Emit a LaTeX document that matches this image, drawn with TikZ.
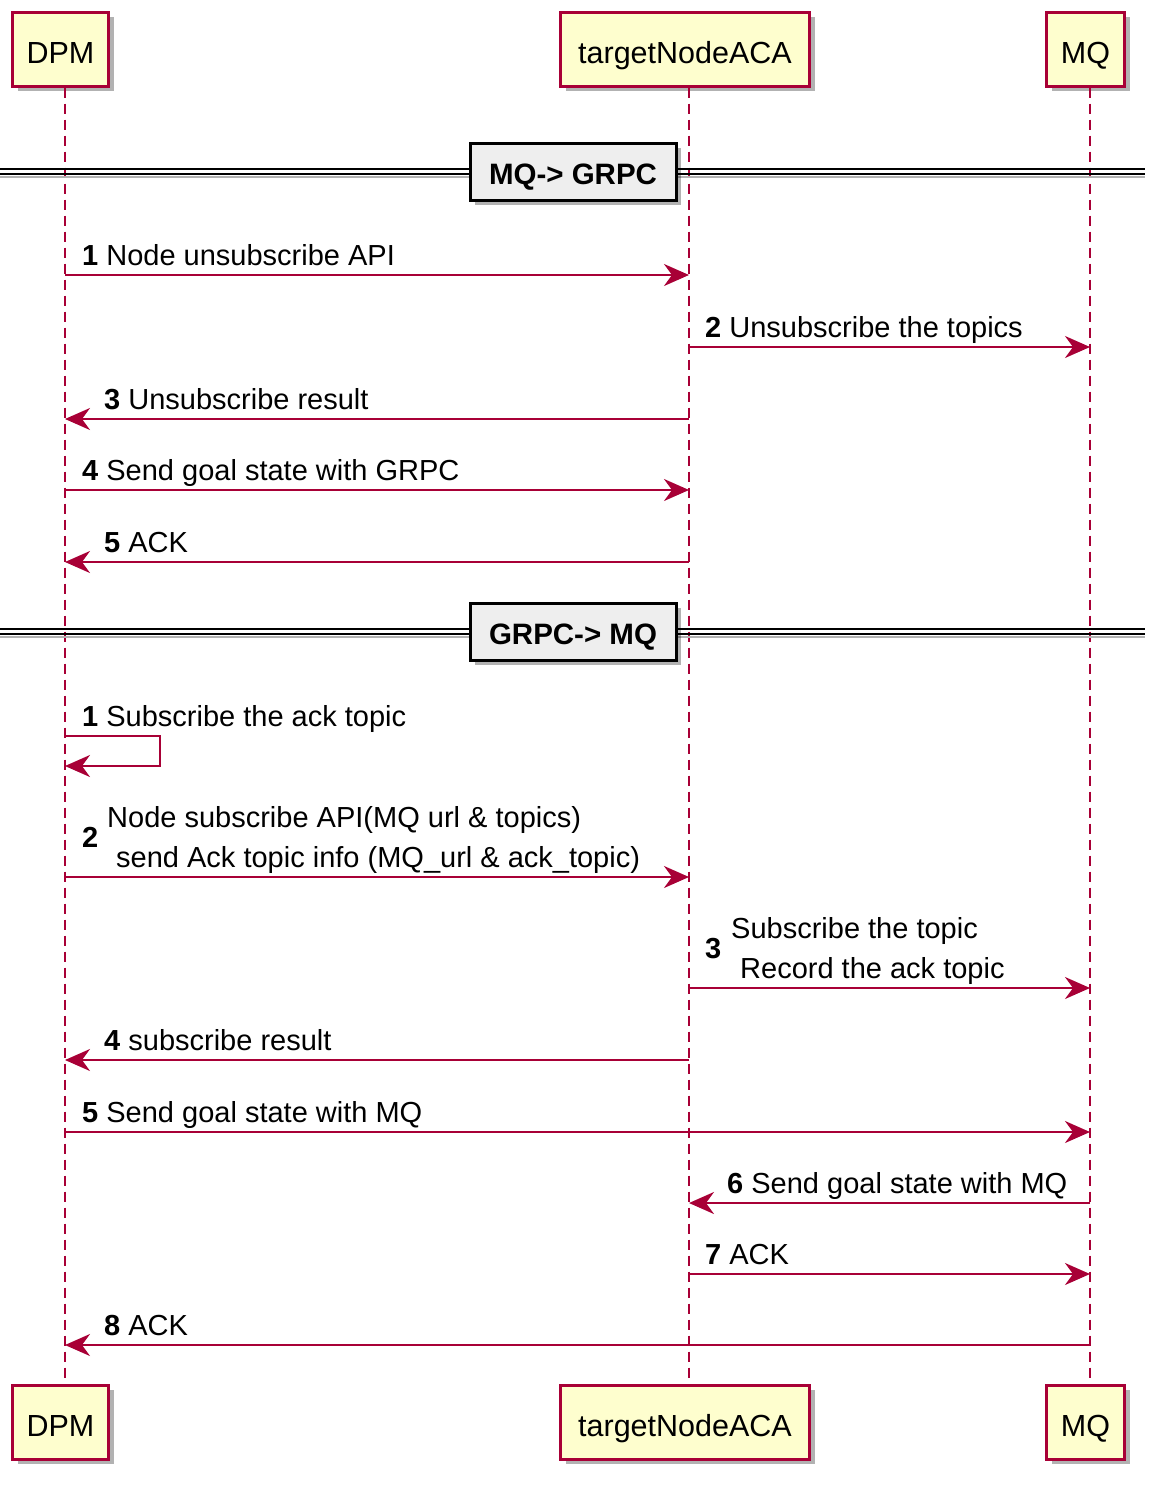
\documentclass[tikz,border=0pt]{standalone}
\usepackage{fontspec}
\setmainfont{Liberation Sans}
\usetikzlibrary{arrows.meta,shadows}
\definecolor{pumlred}{HTML}{A80036}
\definecolor{pumlyellow}{HTML}{FEFECE}
\definecolor{sepfill}{HTML}{EEEEEE}
\begin{document}
\begin{tikzpicture}[x=1pt,y=-1pt,
  every node/.style={font=\fontsize{29}{35}\selectfont, inner sep=0pt},
  partbox/.style={draw=pumlred, line width=3pt, fill=pumlyellow, minimum height=74pt,
    font=\fontsize{30.5}{36}\selectfont, text height=28pt, text depth=0pt,
    drop shadow={shadow xshift=5pt, shadow yshift=-5pt, opacity=0.3, fill=black}},
  lifeline/.style={draw=pumlred, line width=1.5pt, dash pattern=on 10pt off 6pt},
  msg/.style={draw=pumlred, line width=2pt, -{Stealth[length=25pt,width=22pt,inset=8pt]}},
  lbl/.style={anchor=base west},
  sepbox/.style={draw=black, line width=3pt, fill=sepfill, minimum width=206pt, minimum height=57pt,
    font=\fontsize{29.5}{35}\selectfont\bfseries, text height=25pt, text depth=0pt,
    drop shadow={shadow xshift=5pt, shadow yshift=-5pt, opacity=0.3, fill=black}},
  sepline/.style={draw=black, line width=2pt},
  sepshadow/.style={draw=black!30, line width=2pt},
]
\useasboundingbox (0,0) rectangle (1158,1486);
% lifeline x positions
\coordinate (xD) at (65,0);
\coordinate (xA) at (689,0);
\coordinate (xM) at (1090,0);
% participants
\node[partbox, minimum width=96pt] (dpmT) at (60.5,49) {DPM};
\node[partbox, minimum width=249pt] (acaT) at (685,49) {targetNodeACA};
\node[partbox, minimum width=78pt] (mqT) at (1085.5,49) {MQ};
\node[partbox, minimum width=96pt] (dpmB) at (60.5,1422) {DPM};
\node[partbox, minimum width=249pt] (acaB) at (685,1422) {targetNodeACA};
\node[partbox, minimum width=78pt] (mqB) at (1085.5,1422) {MQ};
% lifelines
\draw[lifeline] (dpmT.south -| xD) -- (dpmB.north -| xD);
\draw[lifeline] (acaT.south -| xA) -- (acaB.north -| xA);
\draw[lifeline] (mqT.south -| xM) -- (mqB.north -| xM);
% separator 1
\coordinate (s1L) at (0,169);
\coordinate (s1R) at (1145,169);
\draw[sepshadow] ([yshift=-8pt]s1L) -- ([yshift=-8pt]s1R);
\draw[sepline] (s1L) -- (s1R);
\draw[sepline] ([yshift=-5pt]s1L) -- ([yshift=-5pt]s1R);
\node[sepbox] (sep1) at (573,171.5) {MQ-> GRPC\hspace{10pt}};
% separator 2
\coordinate (s2L) at (0,629);
\coordinate (s2R) at (1145,629);
\draw[sepshadow] ([yshift=-8pt]s2L) -- ([yshift=-8pt]s2R);
\draw[sepline] (s2L) -- (s2R);
\draw[sepline] ([yshift=-5pt]s2L) -- ([yshift=-5pt]s2R);
\node[sepbox] (sep2) at (573,631.5) {GRPC-> MQ\hspace{10pt}};
% section 1 messages
\draw[msg] (xD |- 0,275) -- (xA |- 0,275);
\node[lbl] (l1) at (82,265) {\textbf{1} Node unsubscribe API};
\draw[msg] (xA |- 0,347) -- (xM |- 0,347);
\node[lbl] (l2) at (705,337) {\textbf{2} Unsubscribe the topics};
\draw[msg] (xA |- 0,419) -- (xD |- 0,419);
\node[lbl] (l3) at (104,409) {\textbf{3} Unsubscribe result};
\draw[msg] (xD |- 0,490) -- (xA |- 0,490);
\node[lbl] (l4) at (82,480) {\textbf{4} Send goal state with GRPC};
\draw[msg] (xA |- 0,562) -- (xD |- 0,562);
\node[lbl] (l5) at (104,552) {\textbf{5} ACK};
% section 2 messages
\coordinate (selfA) at (160,736);
\coordinate (selfB) at (160,766);
\draw[msg] (xD |- selfA) -- (selfA) -- (selfB) -- (xD |- selfB);
\node[lbl] (k1) at (82,726) {\textbf{1} Subscribe the ack topic};
\draw[msg] (xD |- 0,877) -- (xA |- 0,877);
\node[lbl] (k2n) at (82,847) {\textbf{2}};
\node[lbl] (k2a) at (107,827) {Node subscribe API(MQ url \& topics)};
\node[lbl] (k2b) at (116,867) {send Ack topic info (MQ\_url \& ack\_topic)};
\draw[msg] (xA |- 0,988) -- (xM |- 0,988);
\node[lbl] (k3n) at (705,958) {\textbf{3}};
\node[lbl] (k3a) at (731,938) {Subscribe the topic};
\node[lbl] (k3b) at (740,978) {Record the ack topic};
\draw[msg] (xA |- 0,1060) -- (xD |- 0,1060);
\node[lbl] (k4) at (104,1050) {\textbf{4} subscribe result};
\draw[msg] (xD |- 0,1132) -- (xM |- 0,1132);
\node[lbl] (k5) at (82,1122) {\textbf{5} Send goal state with MQ};
\draw[msg] (xM |- 0,1203) -- (xA |- 0,1203);
\node[lbl] (k6) at (727,1193) {\textbf{6} Send goal state with MQ};
\draw[msg] (xA |- 0,1274) -- (xM |- 0,1274);
\node[lbl] (k7) at (705,1264) {\textbf{7} ACK};
\draw[msg] (xM |- 0,1345) -- (xD |- 0,1345);
\node[lbl] (k8) at (104,1335) {\textbf{8} ACK};
\end{tikzpicture}
\end{document}
